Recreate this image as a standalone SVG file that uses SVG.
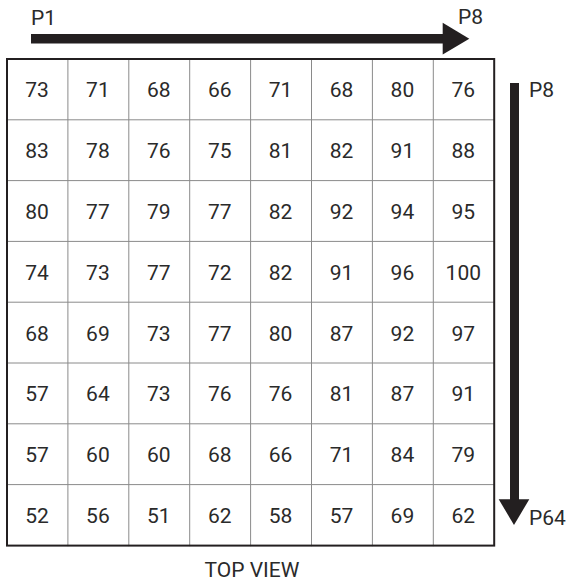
<svg xmlns="http://www.w3.org/2000/svg" width="568" height="586" viewBox="0 0 568 586">
<style>
text{font-family:Roboto,"Liberation Sans",sans-serif;font-size:21px;fill:#2a2a2a}
.v{text-anchor:middle}
.in{stroke:#8a8a8a;stroke-width:1;fill:none}
.out{stroke:#231f20;stroke-width:2;fill:none}
.ar{fill:#231f20}
</style>
<rect width="568" height="586" fill="#fff"/>
<g id="connectors">
<rect class="ar" x="31" y="34" width="412" height="9.5"/>
<polygon class="ar" points="442.7,22.7 469.3,38.7 442.7,54.5"/>
<rect class="ar" x="510" y="83" width="9" height="417"/>
<polygon class="ar" points="498.7,499.3 529.3,499.3 514,525"/>
</g>
<g id="grid">
<path class="in" d="M67.9,59V546.2M128.8,59V546.2M189.7,59V546.2M250.6,59V546.2M311.5,59V546.2M372.4,59V546.2M433.3,59V546.2M7,119.8H494.2M7,180.6H494.2M7,241.4H494.2M7,302.2H494.2M7,363H494.2M7,423.8H494.2M7,484.6H494.2"/>
<rect class="out" x="7" y="59" width="487.2" height="486.6"/>
</g>
<g id="values" class="v">
<text x="37" y="97.4">73</text><text x="97.9" y="97.4">71</text><text x="158.8" y="97.4">68</text><text x="219.7" y="97.4">66</text><text x="280.6" y="97.4">71</text><text x="341.5" y="97.4">68</text><text x="402.4" y="97.4">80</text><text x="463.3" y="97.4">76</text>
<text x="37" y="158.2">83</text><text x="97.9" y="158.2">78</text><text x="158.8" y="158.2">76</text><text x="219.7" y="158.2">75</text><text x="280.6" y="158.2">81</text><text x="341.5" y="158.2">82</text><text x="402.4" y="158.2">91</text><text x="463.3" y="158.2">88</text>
<text x="37" y="219">80</text><text x="97.9" y="219">77</text><text x="158.8" y="219">79</text><text x="219.7" y="219">77</text><text x="280.6" y="219">82</text><text x="341.5" y="219">92</text><text x="402.4" y="219">94</text><text x="463.3" y="219">95</text>
<text x="37" y="279.8">74</text><text x="97.9" y="279.8">73</text><text x="158.8" y="279.8">77</text><text x="219.7" y="279.8">72</text><text x="280.6" y="279.8">82</text><text x="341.5" y="279.8">91</text><text x="402.4" y="279.8">96</text><text x="463.3" y="279.8">100</text>
<text x="37" y="340.6">68</text><text x="97.9" y="340.6">69</text><text x="158.8" y="340.6">73</text><text x="219.7" y="340.6">77</text><text x="280.6" y="340.6">80</text><text x="341.5" y="340.6">87</text><text x="402.4" y="340.6">92</text><text x="463.3" y="340.6">97</text>
<text x="37" y="401.4">57</text><text x="97.9" y="401.4">64</text><text x="158.8" y="401.4">73</text><text x="219.7" y="401.4">76</text><text x="280.6" y="401.4">76</text><text x="341.5" y="401.4">81</text><text x="402.4" y="401.4">87</text><text x="463.3" y="401.4">91</text>
<text x="37" y="462.2">57</text><text x="97.9" y="462.2">60</text><text x="158.8" y="462.2">60</text><text x="219.7" y="462.2">68</text><text x="280.6" y="462.2">66</text><text x="341.5" y="462.2">71</text><text x="402.4" y="462.2">84</text><text x="463.3" y="462.2">79</text>
<text x="37" y="523">52</text><text x="97.9" y="523">56</text><text x="158.8" y="523">51</text><text x="219.7" y="523">62</text><text x="280.6" y="523">58</text><text x="341.5" y="523">57</text><text x="402.4" y="523">69</text><text x="463.3" y="523">62</text>
</g>
<g id="labels">
<text x="31" y="25">P1</text>
<text x="458" y="24">P8</text>
<text x="529" y="97">P8</text>
<text x="529" y="525">P64</text>
<text x="252" y="577" class="v">TOP VIEW</text>
</g>
</svg>
